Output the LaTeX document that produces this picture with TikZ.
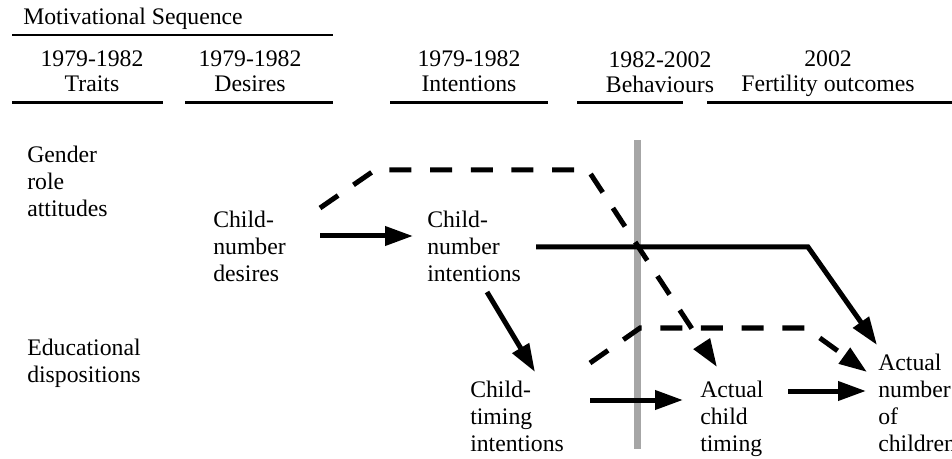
\documentclass[tikz,border=0pt]{standalone}
\usepackage{fontspec}
\setmainfont{Liberation Serif}
\usepackage{tikz}
\usetikzlibrary{arrows.meta}
\newcommand{\bodyfont}{\fontsize{17.8pt}{20.25pt}\selectfont}
\newcommand{\headfont}{\fontsize{17.8pt}{18.75pt}\selectfont}

\begin{document}
\begin{tikzpicture}[
  x=0.75pt, y=-0.75pt,
  txt/.style={font=\bodyfont, align=left, inner sep=0pt, anchor=north west},
  hdr/.style={font=\headfont, align=center, inner sep=0pt, anchor=north},
  rule/.style={line width=2.25pt},
  arr/.style={line width=3.75pt, -{Triangle[length=21pt, width=14pt]}},
  dsh/.style={arr, dash pattern=on 16.5pt off 14pt},
  wall/.style={line width=5.25pt, gray!70},
]
\useasboundingbox (0,0) rectangle (952,459);

% header
\node[font=\headfont, inner sep=0pt, anchor=base west] (mot) at (23,25) {Motivational Sequence};
\draw[line width=1.5pt] (12,35) -- (333,35);
\node[hdr] (traits) at (92,48.5) {\strut 1979-1982\\Traits};
\node[hdr] (desires) at (250,48.5) {\strut 1979-1982\\Desires};
\node[hdr] (intent) at (469,48.5) {\strut 1979-1982\\Intentions};
\node[hdr] (behav) at (660,50) {\strut 1982-2002\\Behaviours};
\node[hdr] (fert) at (828,48.5) {\strut 2002\\Fertility outcomes};
\foreach \a/\b in {12/163, 185/333, 390/548, 577/683, 707/952}
  \draw[rule] (\a,102.5) -- (\b,102.5);

% 1982 boundary
\draw[wall] (637,140) -- (637,449);

% traits
\node[txt] (gen) at (27,143) {\strut Gender\\role\\attitudes};
\node[txt] (edu) at (27,336) {\strut Educational\\dispositions};

% sequence
\node[txt] (des) at (213,208) {\strut Child-\\number\\desires};
\node[txt] (nint) at (427,208) {\strut Child-\\number\\intentions};
\node[txt] (tint) at (470,378) {\strut Child-\\timing\\intentions};
\node[txt] (act) at (700,378) {\strut Actual\\child\\timing};
\node[txt] (anum) at (878,351) {\strut Actual\\number\\of\\children};

% paths
\draw[arr] ([shift={(107,28)}]des.north west) -- ([shift={(-14,28)}]nint.north west);
\draw[dsh] ([shift={(107,0)}]des.north west) -- ++(55,-38) -- ++(213,0) -- ([shift={(17,-11)}]act.north west);
\draw[arr] ([shift={(109,39)}]nint.north west) -- ++(272,0) -- ([shift={(-1,-6)}]anum.north west);
\draw[arr] ([shift={(60,84)}]nint.north west) -- ([shift={(65,-6)}]tint.north west);
\draw[dsh] ([shift={(120,-15)}]tint.north west) -- ++(50,-35) -- ++(166,0) -- ([shift={(-11,21)}]anum.north west);
\draw[arr] ([shift={(120,22)}]tint.north west) -- ([shift={(-17,22)}]act.north west);
\draw[arr] ([shift={(88,13)}]act.north west) -- ([shift={(-12,40)}]anum.north west);

\end{tikzpicture}
\end{document}
